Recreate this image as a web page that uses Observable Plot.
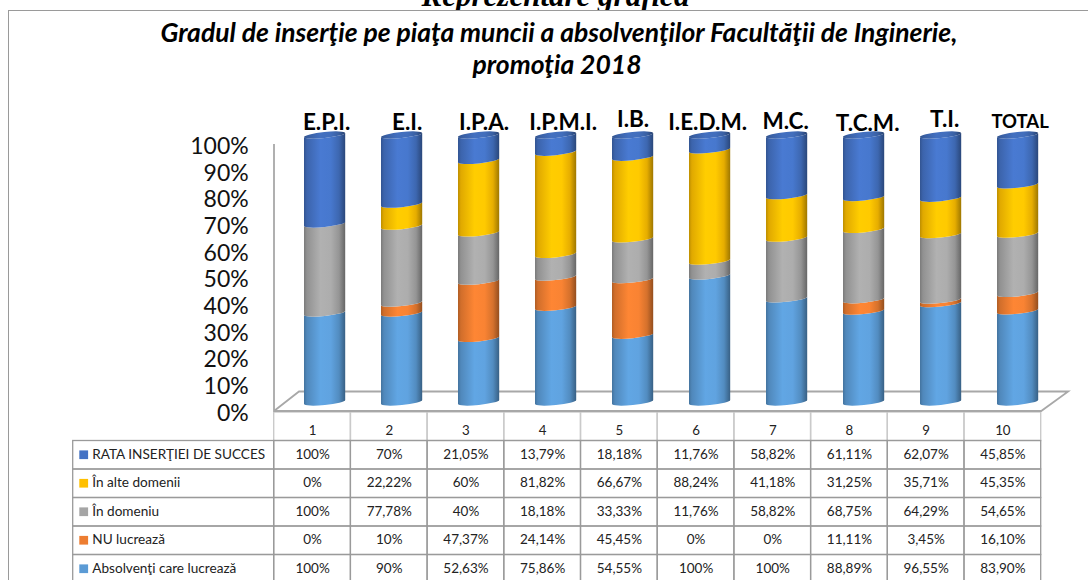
<!DOCTYPE html>
<html lang="ro">
<head>
<meta charset="utf-8">
<script src="https://cdn.jsdelivr.net/npm/d3@7"></script>
<script src="https://cdn.jsdelivr.net/npm/@observablehq/plot@0.6"></script>
<style>
html,body{margin:0;padding:0;background:#fff;overflow:hidden}
#page{position:relative;width:1088px;height:580px;overflow:hidden;background:#fff}
#frame{position:absolute;left:8px;top:10px;width:1090px;height:600px;border-left:1.6px solid #9a9a9a;border-top:1.6px solid #9a9a9a;box-sizing:border-box}
#over{position:absolute;left:0;top:-20.5px;width:1111px;text-align:center;font:italic bold 31px "Liberation Serif",serif;color:#000;line-height:32px;white-space:nowrap}
#clip{position:absolute;left:0;top:0;width:1088px;height:10px;overflow:hidden}
.t{position:absolute;left:0;width:1118px;text-align:center;font:italic bold 26.5px Lato,sans-serif;color:#000;white-space:nowrap;line-height:30px}
#chart,#table{position:absolute;left:0}
#chart{top:0}
#table{top:411.5px}
svg{background:none!important;display:block}
</style>
</head>
<body>
<div id="page">
  <div id="clip"><div id="over">Reprezentare grafică</div></div>
  <div id="frame"></div>
  <div class="t" style="top:17px">Gradul de inserţie pe piaţa muncii a absolvenţilor Facultăţii de Inginerie,</div>
  <div class="t" style="top:48.5px;width:1114px">promoţia 2018</div>
  <div id="table"></div>
  <div id="chart"></div>
</div>
<script>
const columns = [1,2,3,4,5,6,7,8,9,10];
const specializations = ["E.P.I.","E.I.","I.P.A.","I.P.M.I.","I.B.","I.E.D.M.","M.C.","T.C.M.","T.I.","TOTAL"];
const seriesNames = ["Absolvenţi care lucrează","NU lucrează","În domeniu","În alte domenii","RATA INSERŢIEI DE SUCCES"];
const absolventi = [100,90,52.63,75.86,54.55,100,100,88.89,96.55,83.90];
const nuLucreaza = [0,10,47.37,24.14,45.45,0,0,11.11,3.45,16.10];
const inDomeniu = [100,77.78,40,18.18,33.33,11.76,58.82,68.75,64.29,54.65];
const inAlteDomenii = [0,22.22,60,81.82,66.67,88.24,41.18,31.25,35.71,45.35];
const rataSucces = [100,70,21.05,13.79,18.18,11.76,58.82,61.11,62.07,45.85];
const seriesColors = ["#5b9bd5","#ed7d31","#a5a5a5","#ffc000","#4472c4"];
const axisTicks = [0,.1,.2,.3,.4,.5,.6,.7,.8,.9,1];

const seriesValues = [absolventi,nuLucreaza,inDomeniu,inAlteDomenii,rataSucces];
const tidy = seriesNames.flatMap((s,i)=>columns.map((c,j)=>({col:c,series:s,si:i,value:seriesValues[i][j]})));
const FONT = "Lato, sans-serif";
const svgNS = "http://www.w3.org/2000/svg";

// hand placement of the category captions around their column
const captionDx = [1.5,5,5,7,0,-2.5,-1.5,3.5,3.5,2];
const captionDy = [-13,-13,-13,-13,-16,-13,-14,-12,-16,-13];

const shade = [[0,.74],[.07,.88],[.4,1.07],[.65,1.05],[.85,.9],[1,.62]];
function gradientMark(){
  const g = d3.create("svg:g");
  const defs = g.append("defs");
  [...seriesColors,"#3f69b3"].forEach((c,i)=>{
    const lg = defs.append("linearGradient").attr("id","cyl"+i);
    shade.forEach(([o,k])=>{
      const r = d3.rgb(c);
      lg.append("stop").attr("offset",o).attr("stop-color",d3.rgb(r.r*k,r.g*k,r.b*k).formatHex());
    });
  });
  return g.node();
}
const TILT = 2.1, RY = 3;
function toCylinder(rect, cap){
  const x = +rect.getAttribute("x"), w = +rect.getAttribute("width");
  const y = +rect.getAttribute("y"), h = +rect.getAttribute("height");
  const rx = Math.hypot(w, 2*TILT)/2, rot = -Math.atan2(2*TILT,w)*180/Math.PI;
  const arc = (sw,px,py)=>`A${rx} ${RY} ${rot} 0 ${sw} ${px} ${py}`;
  const d = cap
    ? `M${x} ${y+TILT}${arc(0,x+w,y-TILT)}${arc(0,x,y+TILT)}Z`
    : `M${x} ${y+h+TILT}${arc(0,x+w,y+h-TILT)}L${x+w} ${y-TILT}${arc(1,x,y+TILT)}Z`;
  const p = document.createElementNS(svgNS,"path");
  p.setAttribute("d",d);
  p.setAttribute("fill",rect.getAttribute("fill")||rect.parentNode.getAttribute("fill"));
  rect.replaceWith(p);
}
const renderAs = cap => (I,scales,values,dims,ctx,next)=>{
  const g = next(I,scales,values,dims,ctx);
  g.querySelectorAll("rect").forEach(r=>toCylinder(r,cap));
  return g;
};
function floorMark(index,{x,y}){
  const b = x.bandwidth(), L = x(columns[0]), R = x(columns[columns.length-1])+b;
  const y0 = y(0), y1 = y(1);
  const d = `M${L-30} ${y1+9}V${y0+9}H${R+3}L${R+30} ${y0-10.5}H${L-5}L${L-30} ${y0+9}`;
  const p = document.createElementNS(svgNS,"path");
  p.setAttribute("d",d);
  p.setAttribute("fill","none");
  p.setAttribute("stroke","#a8a8a8");
  p.setAttribute("stroke-width","1.8");
  return p;
}

const chart = Plot.plot({
  width:1088, height:415,
  marginTop:135, marginBottom:13, marginLeft:268.2, marginRight:14,
  style:{background:"none",overflow:"visible"},
  x:{type:"band",domain:columns,padding:.465,round:false,axis:null},
  y:{domain:[0,1],axis:null},
  color:{type:"identity"},
  marks:[
    gradientMark,
    floorMark,
    Plot.axisY({ticks:axisTicks,tickFormat:d3.format(".0%"),tickSize:0,tickPadding:20,dy:11,
      label:null,fontSize:23,fontFamily:FONT,color:"#111"}),
    Plot.barY(tidy,{x:"col",y:"value",z:"series",order:seriesNames,offset:"normalize",
      fill:d=>`url(#cyl${d.si})`,render:renderAs(false)}),
    Plot.barY(columns,{x:d=>d,y1:()=>1,y2:()=>1,fill:()=>"url(#cyl5)",render:renderAs(true)}),
    ...specializations.map((s,i)=>Plot.text([s],{x:()=>columns[i],y:()=>1,text:d=>d,dx:captionDx[i],dy:captionDy[i],
      fontSize:s==="TOTAL"?18.5:22.5,fontWeight:700,fontFamily:FONT,fill:"#000"}))
  ]
});
document.getElementById("chart").append(chart);

const fmt = v => (Number.isInteger(v)?String(v):v.toFixed(2).replace(".",","))+"%";
const HEAD = "h";
const rowsTopDown = [HEAD,...[...seriesNames].reverse()];
const tableCells = tidy;
const table = Plot.plot({
  width:1088, height:171,
  marginTop:0,marginBottom:0,marginLeft:273.7,marginRight:47.3,
  style:{background:"none"},
  x:{type:"band",domain:columns,padding:0,round:false,axis:null},
  y:{type:"band",domain:rowsTopDown,padding:0,round:false,axis:null},
  color:{type:"identity"},
  marks:[
    Plot.cell(columns,{x:d=>d,y:()=>HEAD,fill:()=>"none",stroke:()=>"#cacaca",strokeWidth:1.4}),
    Plot.cell(seriesNames,{x:()=>columns[0],y:d=>d,insetLeft:-201,insetRight:76.7,fill:()=>"none",stroke:()=>"#9a9a9a",strokeWidth:1.3}),
    Plot.cell(tableCells,{x:"col",y:"series",fill:()=>"none",stroke:()=>"#9a9a9a",strokeWidth:1.3}),
    Plot.text(columns,{x:d=>d,y:()=>HEAD,text:d=>String(d),dy:4,fontSize:13.3,fontFamily:FONT,fill:"#222"}),
    Plot.text(tableCells,{x:"col",y:"series",text:d=>fmt(d.value),dy:-0.7,fontSize:13.5,fontFamily:FONT,fill:"#222"}),
    Plot.cell(seriesNames,{x:()=>columns[0],y:d=>d,insetLeft:-194.4,insetRight:262.3,insetTop:9.9,insetBottom:9.9,
      fill:d=>seriesColors[seriesNames.indexOf(d)]}),
    Plot.text(seriesNames,{x:()=>columns[0],y:d=>d,text:d=>d,textAnchor:"start",dx:-220.3,dy:-0.7,fontSize:13.6,fontFamily:FONT,fill:"#222"})
  ]
});
document.getElementById("table").append(table);
</script>
</body>
</html>
